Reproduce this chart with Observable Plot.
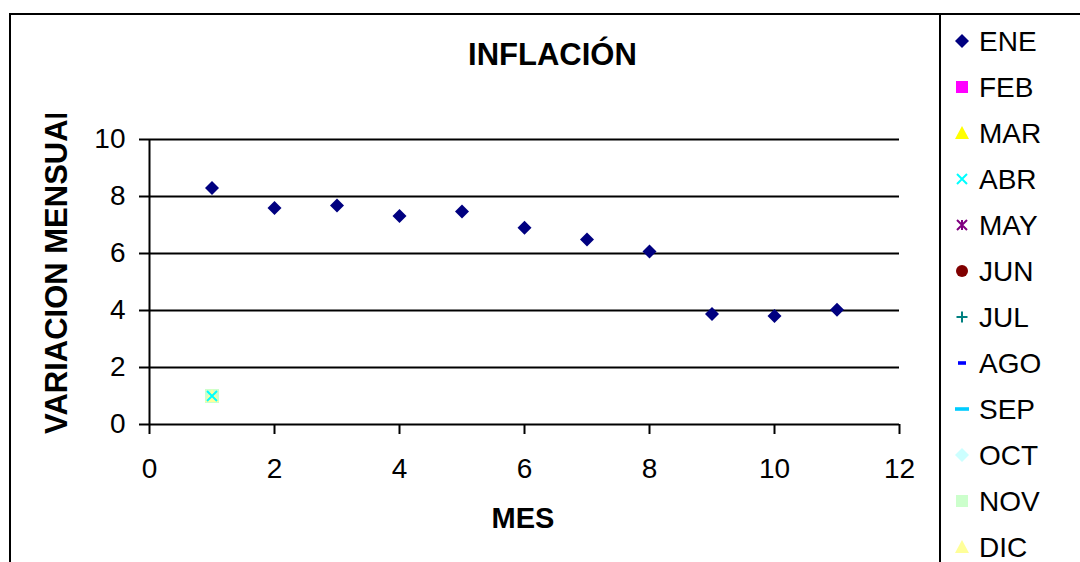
<!DOCTYPE html>
<html><head><meta charset="utf-8">
<script src="https://cdn.jsdelivr.net/npm/d3@7"></script>
<script src="https://cdn.jsdelivr.net/npm/@observablehq/plot@0.6"></script>
<style>
body{margin:0;background:#fff;font-family:"Liberation Sans",Arial,sans-serif;}
#wrap{position:relative;width:1080px;height:562px;overflow:hidden;background:#fff;}
#wrap svg{position:absolute;left:0;top:0;}
</style></head><body><div id="wrap"></div>
<script>
// ---- data ----
const months = ["ENE","FEB","MAR","ABR","MAY","JUN","JUL","AGO","SEP","OCT","NOV","DIC"];
const colors = ["#000080","#FF00FF","#FFFF00","#00FFFF","#800080","#800000","#008080","#0000FF","#00CCFF","#CCFFFF","#CCFFCC","#FFFF99"];
const symbolsByMonth = ["diamond","square","triangle","x","asterisk","circle","plus","dashShort","dashLong","diamond","square","triangle"];
const eneMes = [1,2,3,4,5,6,7,8,9,10,11];
const eneValues = [8.3,7.6,7.68,7.32,7.47,6.9,6.49,6.07,3.88,3.81,4.03];
const otherMes = [1];
const otherValues = [1];
const xTicks = [0,2,4,6,8,10,12];
const yTicks = [0,2,4,6,8,10];
const title = "INFLACIÓN";
const xLabel = "MES";
const yLabel = "VARIACION MENSUAL";

// ---- symbols ----
const R = s => Math.sqrt(s/Math.PI);
const sym = {
  diamond:{draw(c,s){const r=R(s);c.moveTo(0,-r);c.lineTo(r,0);c.lineTo(0,r);c.lineTo(-r,0);c.closePath();}},
  square:{draw(c,s){const r=R(s);c.rect(-r,-r,2*r,2*r);}},
  triangle:{draw(c,s){const r=R(s);c.moveTo(0,-r);c.lineTo(r,r*0.85);c.lineTo(-r,r*0.85);c.closePath();}},
  x:{draw(c,s){const r=R(s);c.moveTo(-r,-r);c.lineTo(r,r);c.moveTo(r,-r);c.lineTo(-r,r);}},
  asterisk:{draw(c,s){const r=R(s);c.moveTo(-r,-r);c.lineTo(r,r);c.moveTo(r,-r);c.lineTo(-r,r);c.moveTo(0,-r);c.lineTo(0,r);}},
  circle:{draw(c,s){const r=R(s);c.moveTo(r,0);c.arc(0,0,r,0,2*Math.PI);}},
  plus:{draw(c,s){const r=R(s);c.moveTo(-r,0);c.lineTo(r,0);c.moveTo(0,-r);c.lineTo(0,r);}},
  dashShort:{draw(c,s){const r=R(s);c.rect(-r,-1.8,2*r,3.6);}},
  dashLong:{draw(c,s){const r=R(s);c.rect(-r,-1.8,2*r,3.6);}}
};
const symR = {diamond:7,square:6,triangle:7,x:5,asterisk:5,circle:6,plus:5.5,dashShort:4,dashLong:7};
const stroked = new Set(["x","asterisk","plus"]);

// series table
const series = months.map((m,i)=>({
  name:m, color:colors[i], symbol:symbolsByMonth[i],
  points: i===0 ? eneMes.map((x,j)=>({x,y:eneValues[j]})) : otherMes.map((x,j)=>({x,y:otherValues[j]}))
}));
// draw order: ABR's cross visible on top
const drawOrder = [...series.slice(1).filter(s=>s.name!=="ABR"), series.find(s=>s.name==="ABR"), series[0]];

const dotMarks = drawOrder.map(s=>{
  const st = stroked.has(s.symbol);
  const r = (s.name==="NOV") ? 7 : symR[s.symbol];
  return Plot.dot(s.points,{x:"x",y:"y",symbol:sym[s.symbol],r,
    fill: st ? "none" : s.color, stroke: st ? s.color : "none", strokeWidth: st ? 2 : 0});
});

const chart = Plot.plot({
  width:1080, height:562,
  marginLeft:149, marginRight:181, marginTop:139, marginBottom:138,
  style:{background:"transparent", fontFamily:"'Liberation Sans', Arial, sans-serif", color:"black"},
  x:{domain:[0,12]}, y:{domain:[0,10]},
  marks:[
    Plot.ruleY(yTicks,{x1:0,x2:12,stroke:"black",strokeWidth:2}),
    Plot.ruleX([0],{y1:0,y2:10,stroke:"black",strokeWidth:2}),
    Plot.axisX({ticks:xTicks,tickSize:10,tickPadding:24,fontSize:28,strokeWidth:2,strokeOpacity:1,label:null,tickFormat:d=>String(d)}),
    Plot.axisY({ticks:yTicks,tickSize:10,tickPadding:14,fontSize:28,strokeWidth:2,strokeOpacity:1,label:null,tickFormat:d=>String(d)}),
    ...dotMarks
  ]
});

const wrap = document.getElementById("wrap");
// overlay: borders, titles, legend
const ov = d3.create("svg").attr("width",1080).attr("height",562)
  .style("font-family","'Liberation Sans', Arial, sans-serif");
ov.append("rect").attr("x",10).attr("y",14).attr("width",1200).attr("height",700)
  .attr("fill","none").attr("stroke","black").attr("stroke-width",2);
ov.append("line").attr("x1",940).attr("x2",940).attr("y1",14).attr("y2",600)
  .attr("stroke","black").attr("stroke-width",2);
ov.append("text").attr("x",552.5).attr("y",65).attr("text-anchor","middle")
  .attr("font-size",31).attr("font-weight","bold").text(title);
ov.append("text").attr("x",523).attr("y",528).attr("text-anchor","middle")
  .attr("font-size",29).attr("font-weight","bold").text(xLabel);
ov.append("clipPath").attr("id","yclip").append("rect").attr("x",0).attr("y",114).attr("width",140).attr("height",400);
ov.append("g").attr("clip-path","url(#yclip)").append("text")
  .attr("transform","translate(67,434) rotate(-90)").attr("text-anchor","start")
  .attr("font-size",31).attr("font-weight","bold").text(yLabel);
const lg = ov.append("g");
series.forEach((s,i)=>{
  const yc = 41 + 46*i;
  const p = d3.path(); const r = symR[s.symbol];
  sym[s.symbol].draw(p, Math.PI*r*r);
  const st = stroked.has(s.symbol);
  lg.append("path").attr("d",p.toString()).attr("transform",`translate(962,${yc})`)
    .attr("fill", st?"none":s.color).attr("stroke", st?s.color:"none").attr("stroke-width",2);
  lg.append("text").attr("x",979).attr("y",yc+9.5).attr("font-size",28).text(s.name);
});
wrap.appendChild(ov.node());
wrap.appendChild(chart);
</script></body></html>
